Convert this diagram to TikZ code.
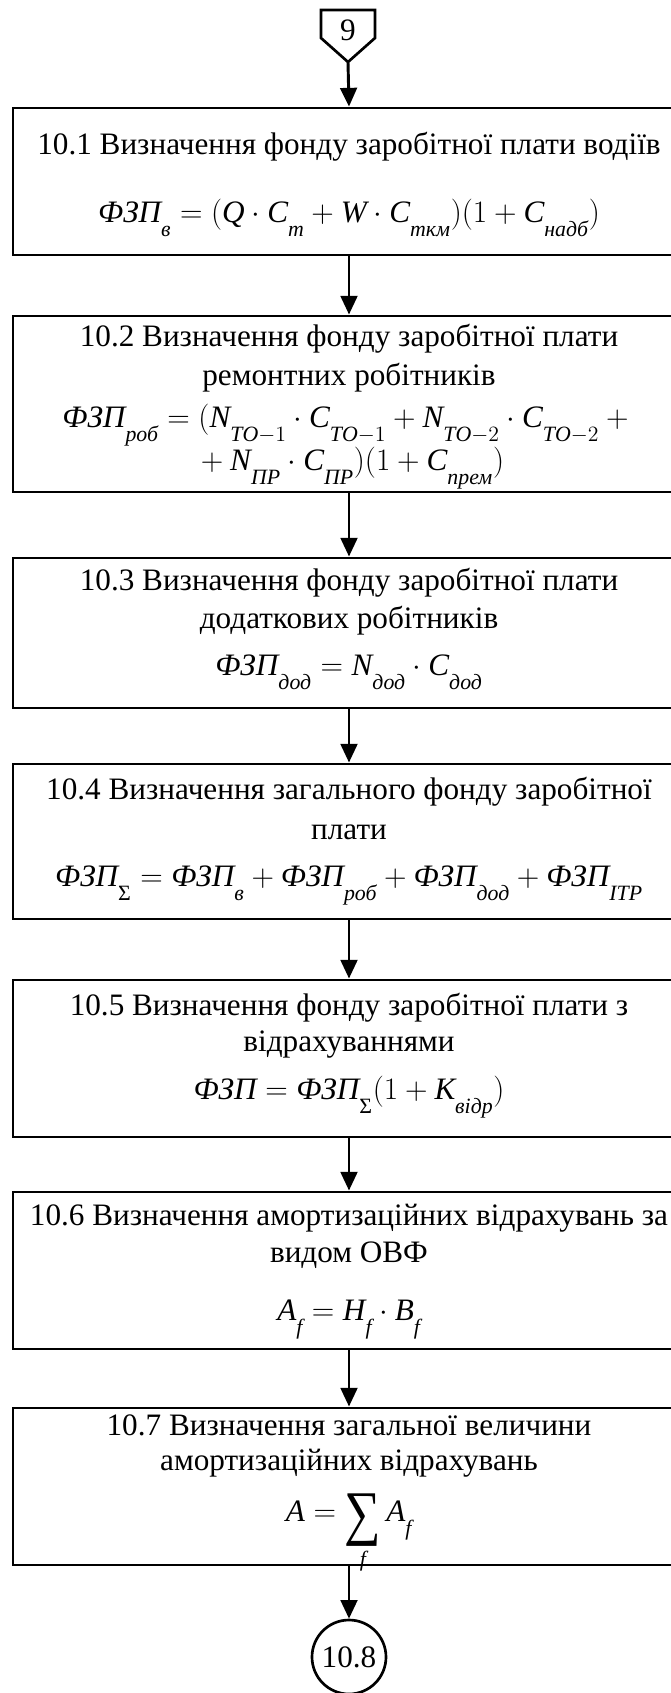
\RequirePackage{fix-cm}
\documentclass[tikz,border=0pt]{standalone}
\usepackage{amsmath}
\usepackage{graphicx}
\usepackage{fontspec}
\setmainfont{Liberation Serif}
\usetikzlibrary{arrows.meta}
% italic letters and deep-set subscripts for the formulas
\newcommand{\iv}[1]{\textit{#1}}
\newcommand{\sbl}[1]{_{\raisebox{-7.5pt}{$\scriptstyle #1$}}}
% large summation sign set in the text face
\newcommand{\bigsum}{\mathop{\raisebox{-9pt}{\scalebox{1.2}[1.42]{\fontsize{32}{32}\selectfont\upshape ∑}}}\limits}
\begin{document}
\begin{tikzpicture}[x=0.75pt,y=-0.75pt,
  box/.style={draw, line width=2.2pt, minimum width=504pt, inner sep=0pt},
  lbl/.style={anchor=base, inner sep=0pt, font=\fontsize{23.4}{28}\selectfont},
  flow/.style={line width=2.2pt, -{Triangle[length=14pt,width=12.5pt]}}]
\useasboundingbox (0,0) rectangle (671,1693);
\clip (0,0) rectangle (671,1693);

% off-page connector from sheet 9
\draw[line width=2pt, line join=miter] (321,10) -- (375,10) -- (375,38) -- (348,62) -- (321,38) -- cycle;
\node[lbl] (n9) at (348,40) {9};
\coordinate (n9tip) at (348,62);

% process boxes
\node[box, minimum height=110.25pt] (b1) at (349,181.5) {};
\node[box, minimum height=132pt]    (b2) at (349,404) {};
\node[box, minimum height=112.5pt]  (b3) at (349,633) {};
\node[box, minimum height=116.25pt] (b4) at (349,841.5) {};
\node[box, minimum height=117.75pt] (b5) at (349,1058.5) {};
\node[box, minimum height=117.75pt] (b6) at (349,1270.5) {};
\node[box, minimum height=117.75pt] (b7) at (349,1486.5) {};

% 10.1
\node[lbl] (t1) at (349,154) {10.1 Визначення фонду заробітної плати водіїв};
\node[lbl] (f1) at (349,222) {$\iv{ФЗП}\sbl{\iv{в}} = (\iv{Q}\cdot \iv{С}\sbl{\iv{т}} + \iv{W}\cdot \iv{С}\sbl{\iv{ткм}})(1+\iv{С}\sbl{\iv{надб}})$};

% 10.2
\node[lbl] (t2a) at (349,346) {10.2 Визначення фонду заробітної плати};
\node[lbl] (t2b) at (349,385) {ремонтних робітників};
\node[lbl] (f2a) at (349,427) {$\iv{ФЗП}\sbl{\iv{роб}} = (\iv{N}\sbl{\iv{ТО}-1}\cdot \iv{С}\sbl{\iv{ТО}-1} + \iv{N}\sbl{\iv{ТО}-2}\cdot \iv{С}\sbl{\iv{ТО}-2} +{}$};
\node[lbl] (f2b) at (349,470) {${}+\iv{N}\sbl{\iv{ПР}}\cdot \iv{С}\sbl{\iv{ПР}})(1+\iv{С}\sbl{\iv{прем}})$};

% 10.3
\node[lbl] (t3a) at (349,590) {10.3 Визначення фонду заробітної плати};
\node[lbl] (t3b) at (349,628) {додаткових робітників};
\node[lbl] (f3) at (349,675) {$\iv{ФЗП}\sbl{\iv{дод}} = \iv{N}\sbl{\iv{дод}}\cdot \iv{С}\sbl{\iv{дод}}$};

% 10.4
\node[lbl] (t4a) at (349,799) {10.4 Визначення загального фонду заробітної};
\node[lbl] (t4b) at (349,839) {плати};
\node[lbl] (f4) at (349,886) {$\iv{ФЗП}\sbl{\textup{Σ}} = \iv{ФЗП}\sbl{\iv{в}} + \iv{ФЗП}\sbl{\iv{роб}} + \iv{ФЗП}\sbl{\iv{дод}} + \iv{ФЗП}\sbl{\iv{ІТР}}$};

% 10.5
\node[lbl] (t5a) at (349,1015) {10.5 Визначення фонду заробітної плати з};
\node[lbl] (t5b) at (349,1051) {відрахуваннями};
\node[lbl] (f5) at (349,1099) {$\iv{ФЗП} = \iv{ФЗП}\sbl{\textup{Σ}}(1+\iv{К}\sbl{\iv{відр}})$};

% 10.6
\node[lbl] (t6a) at (349,1225) {10.6 Визначення амортизаційних відрахувань за};
\node[lbl] (t6b) at (349,1262) {видом ОВФ};
\node[lbl] (f6) at (349,1320) {$\iv{A}\sbl{\iv{f}} = \iv{H}\sbl{\iv{f}}\cdot \iv{B}\sbl{\iv{f}}$};

% 10.7
\node[lbl] (t7a) at (349,1435) {10.7 Визначення загальної величини};
\node[lbl] (t7b) at (349,1470) {амортизаційних відрахувань};
\node[lbl] (f7) at (349,1521) {$\iv{A} = \bigsum_{\iv{f}} \iv{A}\sbl{\iv{f}}$};

% on-page connector to 10.8
\node[draw, circle, line width=2pt, minimum size=55.5pt, inner sep=0pt,
      font=\fontsize{23.4}{28}\selectfont] (n108) at (349,1657) {10.8};

% flow lines
\draw[flow] (n9tip) -- (b1.north);
\draw[flow] (b1.south) -- (b2.north);
\draw[flow] (b2.south) -- (b3.north);
\draw[flow] (b3.south) -- (b4.north);
\draw[flow] (b4.south) -- (b5.north);
\draw[flow] (b5.south) -- (b6.north);
\draw[flow] (b6.south) -- (b7.north);
\draw[flow] (b7.south) -- (n108.north);
\end{tikzpicture}
\end{document}
